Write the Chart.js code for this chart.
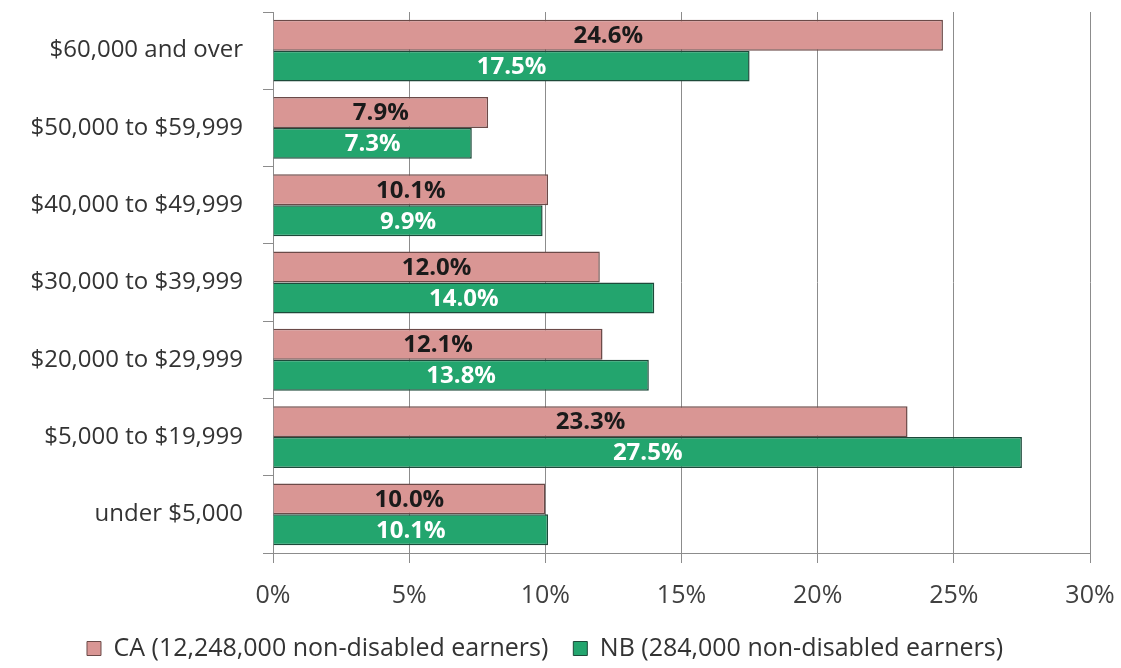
<!DOCTYPE html>
<html>
<head>
<meta charset="utf-8">
<script src="https://cdn.jsdelivr.net/npm/chart.js@4/dist/chart.umd.min.js"></script>
<style>
html,body{margin:0;padding:0;background:#fff;}
#wrap{width:1121px;height:668px;}
</style>
</head>
<body>
<div id="wrap"><canvas id="c" width="1121" height="668"></canvas></div>
<script>
const categories = ["$60,000 and over","$50,000 to $59,999","$40,000 to $49,999","$30,000 to $39,999","$20,000 to $29,999","$5,000 to $19,999","under $5,000"];
const caValues = [24.6, 7.9, 10.1, 12.0, 12.1, 23.3, 10.0];
const nbValues = [17.5, 7.3, 9.9, 14.0, 13.8, 27.5, 10.1];
const caLabel = "CA (12,248,000 non-disabled earners)";
const nbLabel = "NB (284,000 non-disabled earners)";
const xTicks = [0, 5, 10, 15, 20, 25, 30];

const FONT = "'Open Sans', 'Noto Sans', sans-serif";

const valueLabels = {
  id: 'valueLabels',
  afterDatasetsDraw(chart) {
    const ctx = chart.ctx;
    ctx.save();
    ctx.font = "bold 24px " + FONT;
    ctx.textAlign = 'center';
    ctx.textBaseline = 'middle';
    chart.data.datasets.forEach((ds, di) => {
      const meta = chart.getDatasetMeta(di);
      meta.data.forEach((bar, i) => {
        const cx = (bar.x + bar.base) / 2;
        ctx.fillStyle = di === 0 ? '#1a1a1a' : '#ffffff';
        ctx.fillText(ds.data[i].toFixed(1) + '%', cx, bar.y + 1);
      });
    });
    ctx.restore();
  }
};

new Chart(document.getElementById('c'), {
  type: 'bar',
  data: {
    labels: categories,
    datasets: [
      { label: caLabel, data: caValues, backgroundColor: '#D99694', borderColor: '#6b4a48', borderWidth: 1.5, categoryPercentage: 0.8, barPercentage: 1.0 },
      { label: nbLabel, data: nbValues, backgroundColor: '#23A56E', borderColor: '#1d4a3a', borderWidth: 1.5, categoryPercentage: 0.8, barPercentage: 1.0 }
    ]
  },
  options: {
    indexAxis: 'y',
    responsive: false,
    animation: false,
    layout: { padding: { left: 0, right: 31, top: 12, bottom: -3 } },
    plugins: {
      tooltip: { enabled: false },
      legend: {
        position: 'bottom',
        labels: {
          font: { family: FONT, size: 25 },
          color: '#333',
          boxWidth: 14,
          boxHeight: 14,
          padding: 25,
          generateLabels(chart) {
            return chart.data.datasets.map((ds, i) => ({
              text: ds.label, fillStyle: ds.backgroundColor, strokeStyle: ds.borderColor,
              lineWidth: 1, datasetIndex: i, fontColor: '#333'
            }));
          }
        }
      }
    },
    scales: {
      x: {
        min: 0, max: 30,
        afterBuildTicks(scale) { scale.ticks = xTicks.map(v => ({ value: v })); },
        afterFit(scale) { scale.height = 58; scale.paddingLeft = 0; scale.paddingRight = 0; },
        ticks: { callback: v => v + '%', font: { family: FONT, size: 25 }, color: '#404040', padding: 18, maxRotation: 0 },
        grid: { color: '#8c8c8c', lineWidth: 1, tickLength: 10, drawTicks: true },
        border: { color: '#8c8c8c', width: 1 }
      },
      y: {
        afterFit(scale) { scale.width = 273; scale.paddingTop = 0; scale.paddingBottom = 0; },
        ticks: { font: { family: FONT, size: 24 }, color: '#333', padding: 20 },
        grid: { drawOnChartArea: false, drawTicks: true, tickLength: 10, color: '#8c8c8c', offset: true },
        border: { color: '#8c8c8c', width: 1 }
      }
    }
  },
  plugins: [valueLabels]
});
</script>
</body>
</html>
